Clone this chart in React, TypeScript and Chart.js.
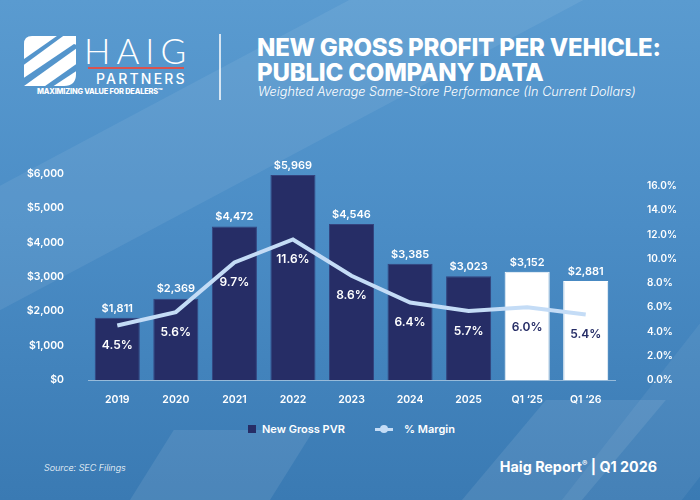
import { useEffect, useRef } from "react";
import Chart from "chart.js/auto";

const categories = ["2019", "2020", "2021", "2022", "2023", "2024", "2025", "Q1 ‘25", "Q1 ‘26"];
const grossPvr = [1811, 2369, 4472, 5969, 4546, 3385, 3023, 3152, 2881];
const marginPct = [4.5, 5.6, 9.7, 11.6, 8.6, 6.4, 5.7, 6.0, 5.4];
const leftTicks = [0, 1000, 2000, 3000, 4000, 5000, 6000];
const rightTicks = [0, 2, 4, 6, 8, 10, 12, 14, 16];

const NAVY = "#262d66";
const LINE = "#c4dcf6";
const FONT = "Inter, 'Noto Sans', sans-serif";

const valueLabels = {
  id: "valueLabels",
  afterDatasetsDraw(chart: any) {
    const ctx = chart.ctx;
    ctx.save();
    ctx.textAlign = "center";
    const bars = chart.getDatasetMeta(0).data;
    ctx.font = `600 11px ${FONT}`;
    ctx.fillStyle = "#ffffff";
    ctx.textBaseline = "bottom";
    bars.forEach((b: any, i: number) => {
      ctx.fillText("$" + grossPvr[i].toLocaleString("en-US"), b.x, b.y - 4);
    });
    const pts = chart.getDatasetMeta(1).data;
    ctx.font = `600 12px ${FONT}`;
    ctx.textBaseline = "middle";
    pts.forEach((p: any, i: number) => {
      ctx.fillStyle = i >= 7 ? NAVY : "#ffffff";
      ctx.fillText(marginPct[i].toFixed(1) + "%", p.x, p.y + 20);
    });
    ctx.restore();
  },
};

function PvrChart() {
  const chartRef = useRef<HTMLCanvasElement>(null);
  const chartInstance = useRef<Chart | null>(null);

  useEffect(() => {
    if (!chartRef.current) return;
    if (chartInstance.current) chartInstance.current.destroy();
    const ctx = chartRef.current.getContext("2d");
    if (!ctx) return;

    chartInstance.current = new Chart(ctx, {
      data: {
        labels: categories,
        datasets: [
          {
            type: "bar",
            label: "New Gross PVR",
            data: grossPvr,
            backgroundColor: grossPvr.map((_, i) => (i >= 7 ? "#ffffff" : NAVY)),
            borderColor: grossPvr.map((_, i) => (i >= 7 ? "#ffffff" : "#34437e")),
            borderWidth: 1,
            barPercentage: 0.77,
            categoryPercentage: 1,
            yAxisID: "y",
            order: 2,
          },
          {
            type: "line",
            label: "% Margin",
            data: marginPct,
            borderColor: LINE,
            borderWidth: 4,
            pointRadius: 0,
            tension: 0,
            yAxisID: "y1",
            order: 1,
          },
        ],
      },
      options: {
        animation: false,
        responsive: true,
        maintainAspectRatio: false,
        layout: { padding: { top: 14, left: 0, right: 0, bottom: 0 } },
        plugins: {
          tooltip: { enabled: false },
          legend: { display: false },
        },
        scales: {
          x: {
            grid: { display: false },
            border: { color: "rgba(255,255,255,0.45)", width: 1 },
            afterFit: (s: any) => {
              s.height = 30;
            },
            ticks: { color: "#ffffff", font: { family: FONT, size: 10.5, weight: 600 }, padding: 6 },
          },
          y: {
            position: "left",
            min: 0,
            max: 6000,
            grid: { display: false },
            border: { display: false },
            afterBuildTicks: (s: any) => {
              s.ticks = leftTicks.map((v) => ({ value: v }));
            },
            afterFit: (s: any) => {
              s.width = 68;
            },
            ticks: {
              color: "#ffffff",
              font: { family: FONT, size: 10.5, weight: 600 },
              padding: 16,
              callback: (v: any) => "$" + Number(v).toLocaleString("en-US"),
            },
          },
          y1: {
            position: "right",
            min: 0,
            max: 17,
            grid: { display: false },
            border: { display: false },
            afterBuildTicks: (s: any) => {
              s.ticks = rightTicks.map((v) => ({ value: v }));
            },
            afterFit: (s: any) => {
              s.width = 75;
            },
            ticks: {
              color: "#ffffff",
              font: { family: FONT, size: 10, weight: 600 },
              padding: 24,
              callback: (v: any) => Number(v).toFixed(1) + "%",
            },
          },
        },
      },
      plugins: [valueLabels],
    } as any);

    return () => {
      if (chartInstance.current) {
        chartInstance.current.destroy();
        chartInstance.current = null;
      }
    };
  }, []);

  return (
    <div style={{ position: "absolute", left: 20, top: 144, width: 670, height: 266 }}>
      <canvas ref={chartRef}></canvas>
    </div>
  );
}

function Legend() {
  const text = { position: "absolute" as const, top: 422, color: "#fff", fontWeight: 600, fontSize: 11, lineHeight: "14px", whiteSpace: "nowrap" as const };
  return (
    <>
      <div style={{ position: "absolute", left: 248, top: 425, width: 8, height: 8, background: NAVY }} />
      <div style={{ ...text, left: 262 }}>New Gross PVR</div>
      <div style={{ position: "absolute", left: 375, top: 427.5, width: 18, height: 3, background: LINE }} />
      <div style={{ position: "absolute", left: 380, top: 425, width: 8, height: 8, borderRadius: 4, background: LINE }} />
      <div style={{ ...text, left: 404 }}>% Margin</div>
    </>
  );
}

function Logo() {
  return (
    <div style={{ position: "absolute", left: 22, top: 30, width: 170, height: 70, color: "#fff" }}>
      <svg width="52" height="50" viewBox="0 0 52 50" style={{ position: "absolute", left: 2, top: 6 }}>
        <defs>
          <clipPath id="lg">
            <path d="M8 0 H52 V38 Q52 50 40 50 H0 V8 Q0 0 8 0 Z" />
          </clipPath>
        </defs>
        <g clipPath="url(#lg)">
          <rect x="0" y="0" width="52" height="50" fill="#ffffff" />
          <path d="M-10 30 L40 -5 L46 -5 L-10 36 Z" fill="#5495cc" />
          <path d="M-5 45 L50 8 L56 10 L0 50 Z" fill="#5495cc" />
          <path d="M14 55 L58 24 L60 30 L22 55 Z" fill="#5495cc" />
        </g>
      </svg>
      <div style={{ position: "absolute", left: 62, top: 0, fontFamily: "Lato, sans-serif", fontWeight: 300, fontSize: 35, letterSpacing: 6, lineHeight: "40px" }}>HAIG</div>
      <div style={{ position: "absolute", left: 66, top: 37, width: 96, height: 2, background: "#d9534f" }} />
      <div style={{ position: "absolute", left: 74, top: 40, fontFamily: FONT, fontWeight: 500, fontSize: 14, letterSpacing: 2.2, lineHeight: "18px" }}>PARTNERS</div>
      <div style={{ position: "absolute", left: 15, top: 57, fontFamily: FONT, fontWeight: 800, fontSize: 7.4, whiteSpace: "nowrap", letterSpacing: -0.2 }}>MAXIMIZING VALUE FOR DEALERS™</div>
    </div>
  );
}

export default function App() {
  useEffect(() => {
    document.body.style.margin = "0";
  }, []);

  return (
    <div
      style={{
        position: "absolute",
        left: 0,
        top: 0,
        width: 700,
        height: 500,
        overflow: "hidden",
        background: "linear-gradient(180deg, #5a9bd0 0%, #4b8dc6 45%, #3a7ab3 100%)",
        fontFamily: FONT,
      }}
    >
      {/* soft diagonal bands */}
      <div style={{ position: "absolute", left: -200, top: 60, width: 900, height: 110, background: "rgba(255,255,255,0.07)", transform: "rotate(-28deg)" }} />
      <div style={{ position: "absolute", left: 80, top: 430, width: 140, height: 300, background: "rgba(255,255,255,0.09)", transform: "skewX(-32deg)" }} />
      <div style={{ position: "absolute", left: 420, top: 400, width: 120, height: 300, background: "rgba(255,255,255,0.09)", transform: "skewX(-40deg)" }} />
      <div style={{ position: "absolute", left: 640, top: 200, width: 120, height: 400, background: "rgba(255,255,255,0.06)", transform: "skewX(-38deg)" }} />

      <Logo />
      <div style={{ position: "absolute", left: 219, top: 34, width: 2, height: 66, background: "rgba(255,255,255,0.75)" }} />
      <div style={{ position: "absolute", left: 257, top: 35, color: "#fff", fontWeight: 800, fontSize: 24, lineHeight: "25px", letterSpacing: -0.2, whiteSpace: "nowrap" }}>
        NEW GROSS PROFIT PER VEHICLE:
        <br />
        PUBLIC COMPANY DATA
      </div>
      <div style={{ position: "absolute", left: 258, top: 84, color: "#fff", fontStyle: "italic", fontWeight: 300, fontSize: 12.7, whiteSpace: "nowrap" }}>
        Weighted Average Same-Store Performance (In Current Dollars)
      </div>

      <PvrChart />
      <Legend />

      <div style={{ position: "absolute", left: 44, top: 462, color: "#fff", fontStyle: "italic", fontWeight: 300, fontSize: 9 }}>Source: SEC Filings</div>
      <div style={{ position: "absolute", right: 43, top: 458, color: "#fff", fontWeight: 700, fontSize: 14.3, whiteSpace: "nowrap" }}>
        Haig Report<sup style={{ fontSize: 8 }}>®</sup> | Q1 2026
      </div>
    </div>
  );
}
